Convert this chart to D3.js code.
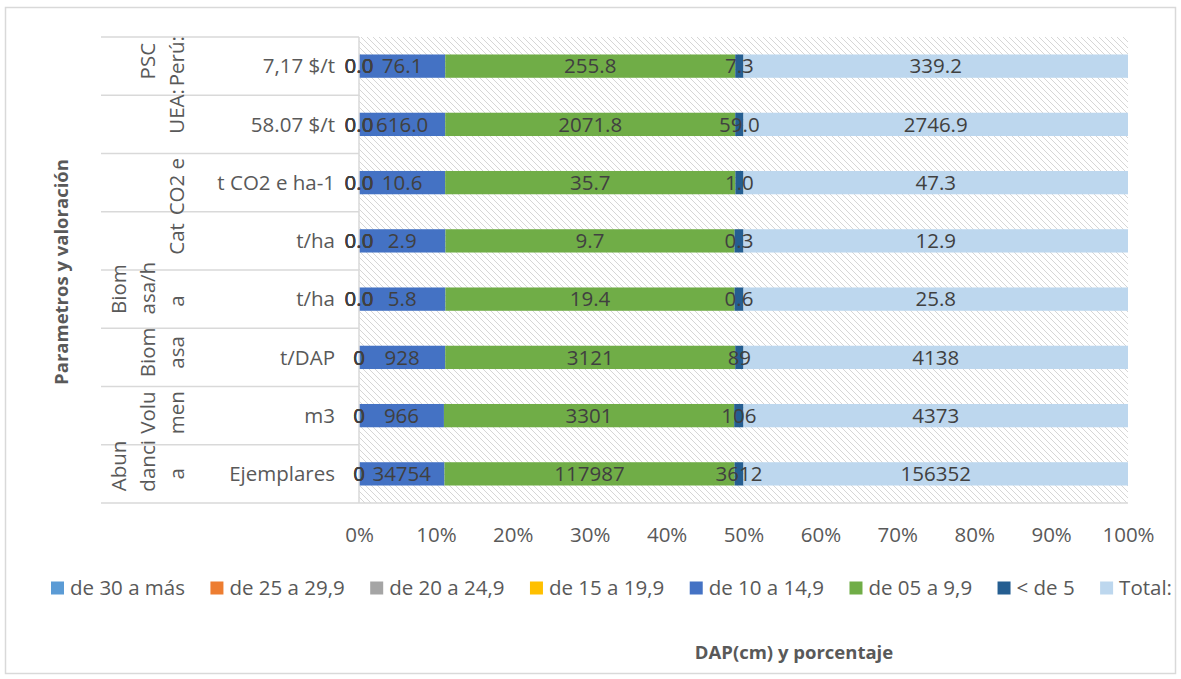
<!DOCTYPE html>
<html>
<head>
<meta charset="utf-8">
<script src="https://cdn.jsdelivr.net/npm/d3@7"></script>
<style>
  html, body { margin: 0; padding: 0; background: #ffffff; }
  svg { display: block; }
  text { font-family: "Open Sans", "Liberation Sans", sans-serif; }
</style>
</head>
<body>
<svg id="chart" width="1181" height="679"></svg>
<script>
// Inner category labels (units), top row first
const categories = ["7,17 $/t", "58.07 $/t", "t CO2 e ha-1", "t/ha", "t/ha", "t/DAP", "m3", "Ejemplares"];
// Outer category labels, already wrapped into lines
const groups = [["PSC", "Perú:"], ["UEA:"], ["CO2 e"], ["Cat"], ["Biom", "asa/h", "a"], ["Biom", "asa"], ["Volu", "men"], ["Abun", "danci", "a"]];
// vertical nudge of each outer label line, in px
const groupShift = [[-5, -5], [-13], [4], [-2], [-10, -11, 2], [-5, -5], [-3, -3], [-8, -8, 0]];
// decimals used by the value labels on each row
const decimals = [1, 1, 1, 1, 1, 0, 0, 0];

// DAP classes (cm)
const seriesNames = ["de 30 a más", "de 25 a 29,9", " de 20 a 24,9", "de 15 a 19,9", "de 10 a 14,9", "de 05 a 9,9", "< de 5", "Total:"];
const seriesColors = ["#5B9BD5", "#ED7D31", "#A5A5A5", "#FFC000", "#4472C4", "#70AD47", "#255E91", "#BDD7EE"];

const s30 = [0, 0, 0, 0, 0, 0, 0, 0];
const s25 = [0, 0, 0, 0, 0, 0, 0, 0];
const s20 = [0, 0, 0, 0, 0, 0, 0, 0];
const s15 = [0, 0, 0, 0, 0, 0, 0, 0];
const s10 = [76.1, 616.0, 10.6, 2.9, 5.8, 928, 966, 34754];
const s05 = [255.8, 2071.8, 35.7, 9.7, 19.4, 3121, 3301, 117987];
const sLt5 = [7.3, 59.0, 1.0, 0.3, 0.6, 89, 106, 3612];
const sTotal = [339.2, 2746.9, 47.3, 12.9, 25.8, 4138, 4373, 156352];

const tickValues = [0, 0.1, 0.2, 0.3, 0.4, 0.5, 0.6, 0.7, 0.8, 0.9, 1.0];

const seriesData = [s30, s25, s20, s15, s10, s05, sLt5, sTotal];
const rows = categories.map((c, i) => {
  const r = { idx: i };
  seriesNames.forEach((n, k) => { r[n] = seriesData[k][i]; });
  return r;
});

const svg = d3.select("#chart");
const plot = { left: 359, right: 1128, top: 37, bottom: 503 };
const axisColor = "#d9d9d9";
const textColor = "#595959";
const labelColor = "#404040";
const fs = 20.5;

// chart frame
svg.append("rect")
  .attr("x", 5.5).attr("y", 7.5).attr("width", 1170).attr("height", 666)
  .attr("fill", "none").attr("stroke", axisColor).attr("stroke-width", 1.5);

// diagonal hatch for the plot background
const defs = svg.append("defs");
const pat = defs.append("pattern")
  .attr("id", "hatch").attr("patternUnits", "userSpaceOnUse")
  .attr("width", 6).attr("height", 6);
pat.append("rect").attr("width", 6).attr("height", 6).attr("fill", "#ffffff");
pat.append("path")
  .attr("d", "M-1,-1 L7,7 M-4,2 L2,8 M4,-2 L8,2")
  .attr("stroke", "#d6d6d6").attr("stroke-width", 1);

svg.append("rect")
  .attr("x", plot.left).attr("y", plot.top)
  .attr("width", plot.right - plot.left).attr("height", plot.bottom - plot.top)
  .attr("fill", "url(#hatch)");

const x = d3.scaleLinear().domain([0, 1]).range([plot.left, plot.right]);
const y = d3.scaleBand().domain(d3.range(categories.length))
  .range([plot.top, plot.bottom]).paddingInner(0.6).paddingOuter(0.3);
const rowBand = d3.scaleBand().domain(d3.range(categories.length))
  .range([plot.top, plot.bottom]);

const stack = d3.stack().keys(seriesNames).offset(d3.stackOffsetExpand);
const stacked = stack(rows);

// bars
const layers = svg.append("g").selectAll("g").data(stacked).join("g")
  .attr("fill", (d, i) => seriesColors[i]);
layers.selectAll("rect").data(d => d).join("rect")
  .attr("x", d => x(d[0]))
  .attr("width", d => x(d[1]) - x(d[0]))
  .attr("y", d => y(d.data.idx))
  .attr("height", y.bandwidth());

// category axis: separators and axis line
const sep = svg.append("g").attr("stroke", axisColor).attr("stroke-width", 1.5);
d3.range(categories.length + 1).forEach(i => {
  const yy = i < categories.length ? rowBand(i) : plot.bottom;
  sep.append("line").attr("x1", 101).attr("x2", plot.left).attr("y1", yy).attr("y2", yy);
});
sep.append("line").attr("x1", plot.left).attr("x2", plot.left).attr("y1", plot.top).attr("y2", plot.bottom);
sep.append("line").attr("x1", plot.left).attr("x2", plot.right).attr("y1", plot.bottom).attr("y2", plot.bottom);

// value labels centred on each segment
const lbl = svg.append("g")
  .attr("font-size", fs).attr("fill", labelColor).attr("text-anchor", "middle");
stacked.forEach((layer, k) => {
  layer.forEach(d => {
    const i = d.data.idx;
    const v = seriesData[k][i];
    lbl.append("text")
      .attr("x", (x(d[0]) + x(d[1])) / 2)
      .attr("y", rowBand(i) + rowBand.bandwidth() / 2)
      .attr("dy", "0.35em")
      .text(d3.format("." + decimals[i] + "f")(v));
  });
});

// inner category labels
svg.append("g").attr("font-size", fs).attr("fill", textColor).attr("text-anchor", "end")
  .selectAll("text").data(categories).join("text")
  .attr("x", 335)
  .attr("y", (d, i) => rowBand(i) + rowBand.bandwidth() / 2)
  .attr("dy", "0.35em")
  .text(d => d);

// outer category labels, rotated and wrapped
const outer = svg.append("g").attr("font-size", fs).attr("fill", textColor).attr("text-anchor", "middle");
groups.forEach((lines, i) => {
  const cy = rowBand(i) + rowBand.bandwidth() / 2;
  lines.forEach((t, j) => {
    const bx = 184 - 29 * (lines.length - 1 - j);
    const yy = cy + groupShift[i][j];
    outer.append("text")
      .attr("transform", `translate(${bx},${yy}) rotate(-90)`)
      .text(t);
  });
});

// value axis
const xAxis = d3.axisBottom(x).tickValues(tickValues).tickFormat(d3.format(".0%")).tickSize(0).tickPadding(24);
const gx = svg.append("g").attr("transform", `translate(0,${plot.bottom})`).call(xAxis);
gx.select(".domain").remove();
gx.selectAll("text").attr("font-size", fs).attr("fill", textColor)
  .style("font-family", "'Open Sans', 'Liberation Sans', sans-serif");

// axis titles
svg.append("text")
  .attr("transform", `translate(68,272) rotate(-90)`)
  .attr("text-anchor", "middle").attr("font-size", 18.5).attr("font-weight", "bold")
  .attr("fill", textColor).text("Parametros y valoración");
svg.append("text")
  .attr("x", 794).attr("y", 659)
  .attr("text-anchor", "middle").attr("font-size", 18.5).attr("font-weight", "bold")
  .attr("fill", textColor).text("DAP(cm) y porcentaje");

// legend: entries spread between the two ends of the row
const legend = svg.append("g").attr("font-size", fs).attr("fill", textColor);
const legStart = 51, legEnd = 1172, sw = 13, txtGap = 6;
const items = seriesNames.map((n, k) => {
  const g = legend.append("g");
  g.append("rect").attr("width", sw).attr("height", sw).attr("y", -sw / 2).attr("fill", seriesColors[k]);
  const t = g.append("text").attr("x", sw + txtGap).attr("dy", "0.35em").text(n);
  return { g, w: sw + txtGap + t.node().getComputedTextLength() };
});
const totalW = d3.sum(items, d => d.w);
const gap = (legEnd - legStart - totalW) / (items.length - 1);
let cx = legStart;
items.forEach(it => {
  it.g.attr("transform", `translate(${cx},588)`);
  cx += it.w + gap;
});
</script>
</body>
</html>
